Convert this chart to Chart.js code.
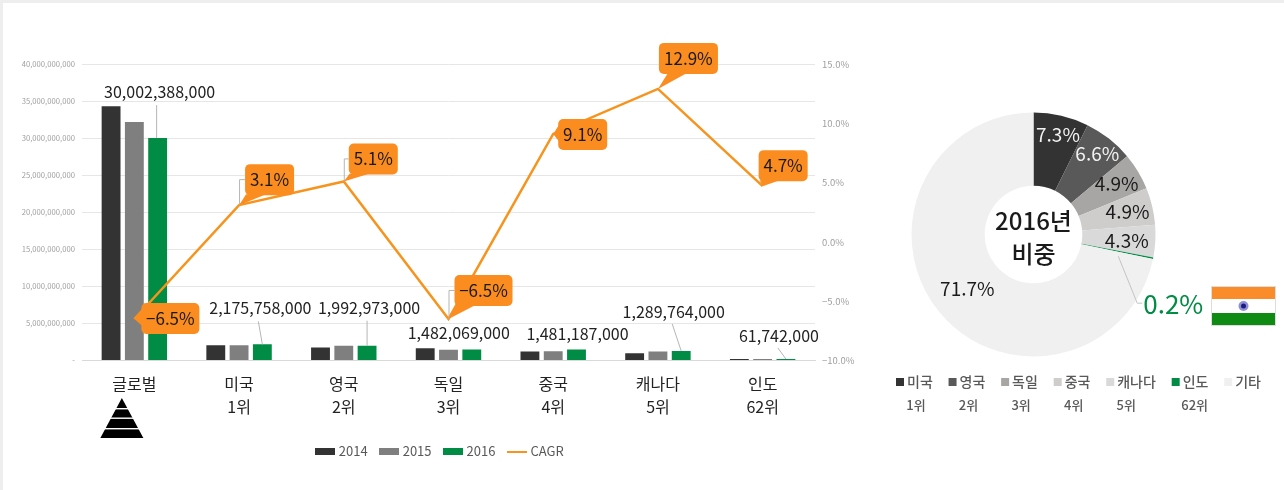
<!DOCTYPE html>
<html lang="ko">
<head>
<meta charset="utf-8">
<title>2016 비중</title>
<script src="https://cdn.jsdelivr.net/npm/chart.js@4"></script>
<style>
  html, body { margin: 0; background: #fff; overflow: hidden; }
  body { width: 1284px; height: 490px; position: relative; }
  canvas { position: absolute; top: 0; }
  #barChart { left: 0; }
  #pieChart { left: 783px; }
  .edge { position: absolute; background: #eeeeee; }
  #flag { position: absolute; left: 1211px; top: 286px; }
</style>
</head>
<body>
<div class="edge" style="left:0;top:0;width:1284px;height:3px"></div>
<div class="edge" style="left:0;top:0;width:3px;height:490px"></div>
<canvas id="barChart" width="882" height="468"></canvas>
<canvas id="pieChart" width="501" height="469"></canvas>
<svg id="flag" width="65" height="40" viewBox="0 0 65 40">
  <rect width="65" height="13" fill="#fb8c2a"/>
  <rect y="13" width="65" height="14" fill="#ffffff"/>
  <rect y="27" width="65" height="13" fill="#0f8a12"/>
  <rect x="0.5" y="0.5" width="64" height="39" fill="none" stroke="#dddddd"/>
  <circle cx="32.5" cy="20" r="5" fill="#8f8fd8"/>
  <circle cx="32.5" cy="20" r="2.5" fill="#1c1c80"/>
</svg>
<script>
const categories = ['글로벌', '미국', '영국', '독일', '중국', '캐나다', '인도'];
const ranks = ['', '1위', '2위', '3위', '4위', '5위', '62위'];
const y2014 = [34300000000, 2070000000, 1750000000, 1660000000, 1220000000, 980000000, 50000000];
const y2015 = [32160000000, 2070000000, 1980000000, 1450000000, 1250000000, 1200000000, 55000000];
const y2016 = [30002388000, 2175758000, 1992973000, 1482069000, 1481187000, 1289764000, 61742000];
const cagr = [-6.5, 3.1, 5.1, -6.5, 9.1, 12.9, 4.7];

const shareLabels = ['미국', '영국', '독일', '중국', '캐나다', '인도', '기타'];
const shareRanks = ['1위', '2위', '3위', '4위', '5위', '62위', ''];
const shareValues = [7.3, 6.6, 4.9, 4.9, 4.3, 0.2, 71.7];
const shareColors = ['#333333', '#595959', '#a8a6a4', '#cfcdcc', '#d9d9d9', '#008c45', '#f0f0f0'];

const FONT = '"Noto Sans CJK KR", "Noto Sans", sans-serif';
const ORANGE = '#f7941e';
const CALLOUT = '#fb8c1f';

// label offsets from the top of the green bar
const barLabelOffset = [[2, -46], [-2, -36], [2, -38], [-13, -17], [1, -16], [-7.5, -39.5], [-7, -23.5]];
// leader lines from the green bar, null = none
const barLeader = [[-1, -33, -1, 0], [-4, -23, 0, 0], [0, -25, 0, 0], null, null, [-9, -27, 0, 0], [-8, -11, 0, 0]];
// callout box offset from the line point: dx, dy, width, tail side
const calloutBox = [[7, -16, 58, 'left'], [6, -41, 49, 'bottom'], [5, -38, 49, 'bottom'], [6, -44, 58, 'bottom'],
                    [5, -15, 49, 'left'], [1, -46, 59, 'far'], [-4, -36, 49, 'bottom']];
const calloutLeader = [false, true, true, true, false, false, false];
// doughnut label offsets from each arc's centre
const shareOffset = [[5, -17], [11, -14], [10, -7], [11, -3], [8, 2], [56, 53], [0, 0]];

function legendMark(color, w, h) {
    const c = document.createElement('canvas');
    c.width = w;
    c.height = h;
    const g = c.getContext('2d');
    g.fillStyle = color;
    g.fillRect(0, 0, w, h);
    return c;
}

const barLabelsPlugin = {
    id: 'barLabels',
    afterDraw(chart) {
        const ctx = chart.ctx;
        const xs = chart.scales.x;
        const y1 = chart.scales.y1;
        const bars = chart.getDatasetMeta(3).data; // the 2016 series
        ctx.save();
        ctx.textAlign = 'center';
        ctx.textBaseline = 'middle';

        // bar value labels
        bars.forEach((bar, i) => {
            const lead = barLeader[i];
            if (lead) {
                ctx.strokeStyle = '#b5b5b5';
                ctx.lineWidth = 1;
                ctx.beginPath();
                ctx.moveTo(bar.x + lead[0], bar.y + lead[1]);
                ctx.lineTo(bar.x + lead[2], bar.y + lead[3]);
                ctx.stroke();
            }
            ctx.fillStyle = '#222222';
            ctx.font = '16px ' + FONT;
            ctx.fillText(y2016[i].toLocaleString('en-US'), bar.x + barLabelOffset[i][0], bar.y + barLabelOffset[i][1]);
        });

        // CAGR callouts
        cagr.forEach((v, i) => {
            const px = xs.getPixelForValue(i);
            const py = y1.getPixelForValue(v);
            const [dx, dy, w, side] = calloutBox[i];
            const bx = px + dx;
            const by = py + dy;
            const h = 31;
            if (calloutLeader[i]) {
                ctx.strokeStyle = '#b5b5b5';
                ctx.lineWidth = 1;
                ctx.beginPath();
                ctx.moveTo(px + 0.5, py);
                ctx.lineTo(px + 0.5, by + h / 2);
                ctx.lineTo(bx, by + h / 2);
                ctx.stroke();
            }
            ctx.fillStyle = CALLOUT;
            ctx.beginPath();
            ctx.roundRect(bx, by, w, h, 5);
            ctx.fill();
            ctx.beginPath();
            ctx.moveTo(px, py);
            if (side === 'left') {
                ctx.lineTo(bx + 2, by + 4);
                ctx.lineTo(bx + 2, by + 24);
            } else if (side === 'far') {
                ctx.lineTo(bx + 9, by + h - 1);
                ctx.lineTo(bx + 28, by + h - 1);
            } else {
                ctx.lineTo(bx + 1, by + h - 1);
                ctx.lineTo(bx + 21, by + h - 1);
            }
            ctx.fill();
            ctx.fillStyle = '#1a1a1a';
            ctx.font = '17px ' + FONT;
            ctx.fillText(v.toFixed(1).replace('-', '−') + '%', bx + w / 2, by + h / 2);
        });

        // pyramid under the global label
        const cx = xs.getPixelForValue(0) - 12.5;
        ctx.fillStyle = '#000000';
        ctx.beginPath();
        ctx.moveTo(cx, 398);
        ctx.lineTo(cx + 21.5, 438);
        ctx.lineTo(cx - 21.5, 438);
        ctx.fill();
        ctx.fillStyle = '#ffffff';
        [408, 417.5, 428].forEach(yy => ctx.fillRect(cx - 22, yy, 44, 1.4));
        ctx.restore();
    }
};

new Chart(document.getElementById('barChart'), {
    data: {
        labels: categories.map((c, i) => [c, ranks[i]]),
        datasets: [
            { type: 'line', label: 'CAGR', data: cagr, yAxisID: 'y1', order: 0, borderColor: ORANGE, backgroundColor: ORANGE,
              borderWidth: 2.5, pointRadius: 0, tension: 0 },
            { type: 'bar', label: '2014', data: y2014, yAxisID: 'y', order: 1, backgroundColor: '#333333', minBarLength: 1.5 },
            { type: 'bar', label: '2015', data: y2015, yAxisID: 'y', order: 1, backgroundColor: '#7f7f7f', minBarLength: 1.5 },
            { type: 'bar', label: '2016', data: y2016, yAxisID: 'y', order: 1, backgroundColor: '#008c45', minBarLength: 1.5 }
        ]
    },
    options: {
        responsive: false,
        animation: false,
        barPercentage: 0.81,
        categoryPercentage: 0.667,
        layout: { padding: { top: 64 } },
        plugins: {
            tooltip: { enabled: false },
            legend: {
                position: 'bottom',
                labels: {
                    color: '#595959',
                    font: { family: FONT, size: 13 },
                    usePointStyle: true,
                    pointStyleWidth: 14,
                    padding: 14.5,
                    generateLabels: () => [
                        { text: '2014', pointStyle: legendMark('#333333', 20, 7), fontColor: '#595959', lineWidth: 0 },
                        { text: '2015', pointStyle: legendMark('#7f7f7f', 20, 7), fontColor: '#595959', lineWidth: 0 },
                        { text: '2016', pointStyle: legendMark('#008c45', 20, 7), fontColor: '#595959', lineWidth: 0 },
                        { text: 'CAGR', pointStyle: legendMark(ORANGE, 20, 2), fontColor: '#595959', lineWidth: 0 }
                    ]
                }
            }
        },
        scales: {
            x: {
                grid: { display: false },
                border: { color: '#d9d9d9' },
                afterFit(axis) { axis.height = 70; },
                ticks: { color: '#222222', font: { family: FONT, size: 16, lineHeight: 1.44 }, padding: 4, maxRotation: 0, autoSkip: false }
            },
            y: {
                position: 'left',
                min: 0,
                max: 40000000000,
                afterFit(axis) { axis.width = 82; },
                grid: { color: '#e6e6e6', drawTicks: false },
                border: { display: false },
                ticks: {
                    stepSize: 5000000000,
                    color: '#a0a0a0',
                    padding: 7,
                    font: { family: FONT, size: 7.7 },
                    callback: v => v === 0 ? '-' : v.toLocaleString('en-US')
                }
            },
            y1: {
                position: 'right',
                min: -10,
                max: 15,
                afterFit(axis) { axis.width = 67; },
                grid: { display: false, drawTicks: false },
                border: { display: false },
                ticks: {
                    stepSize: 5,
                    color: '#a0a0a0',
                    padding: 7,
                    font: { family: FONT, size: 9.5 },
                    callback: v => v.toFixed(1).replace('-', '−') + '%'
                }
            }
        }
    },
    plugins: [barLabelsPlugin]
});

const pieLabelsPlugin = {
    id: 'pieLabels',
    afterDraw(chart) {
        const ctx = chart.ctx;
        const arcs = chart.getDatasetMeta(0).data;
        ctx.save();
        ctx.textAlign = 'center';
        ctx.textBaseline = 'middle';

        // leader to the India label
        const india = arcs[5].getCenterPoint();
        ctx.strokeStyle = '#c4c4c4';
        ctx.lineWidth = 1;
        ctx.beginPath();
        ctx.moveTo(india.x + 1, india.y + 5);
        ctx.lineTo(india.x + 20, india.y + 52);
        ctx.lineTo(india.x + 25, india.y + 52);
        ctx.stroke();

        arcs.forEach((arc, i) => {
            const p = arc.getCenterPoint();
            ctx.fillStyle = i < 2 ? '#f2f2f2' : i === 5 ? '#008c45' : '#1a1a1a';
            ctx.font = (i === 5 ? '26px ' : '19px ') + FONT;
            ctx.fillText(shareValues[i].toFixed(1) + '%', p.x + shareOffset[i][0], p.y + shareOffset[i][1]);
        });

        // centre text
        const c = arcs[0];
        ctx.fillStyle = '#1a1a1a';
        ctx.font = '500 24px ' + FONT;
        ctx.fillText('2016년', c.x, c.y - 14);
        ctx.fillText('비중', c.x, c.y + 19);

        // legend with rank row
        let x = 113;
        shareLabels.forEach((name, i) => {
            ctx.font = '500 14px ' + FONT;
            const w = ctx.measureText(name).width;
            ctx.fillStyle = shareColors[i];
            ctx.fillRect(x, 378, 8, 8);
            ctx.fillStyle = '#595959';
            ctx.textAlign = 'left';
            ctx.fillText(name, x + 11, 382);
            if (shareRanks[i]) {
                ctx.font = '500 13px ' + FONT;
                ctx.textAlign = 'center';
                ctx.fillText(shareRanks[i], x + (i === 5 ? 23 : 20), 405);
            }
            x += 11 + w + 15.8;
        });
        ctx.restore();
    }
};

new Chart(document.getElementById('pieChart'), {
    type: 'doughnut',
    data: {
        labels: shareLabels,
        datasets: [{ data: shareValues, backgroundColor: shareColors, borderWidth: 0 }]
    },
    options: {
        responsive: false,
        animation: false,
        cutout: '40%',
        layout: { padding: { top: 112.5, bottom: 112.5 } },
        plugins: { legend: { display: false }, tooltip: { enabled: false } }
    },
    plugins: [pieLabelsPlugin]
});
</script>
</body>
</html>
